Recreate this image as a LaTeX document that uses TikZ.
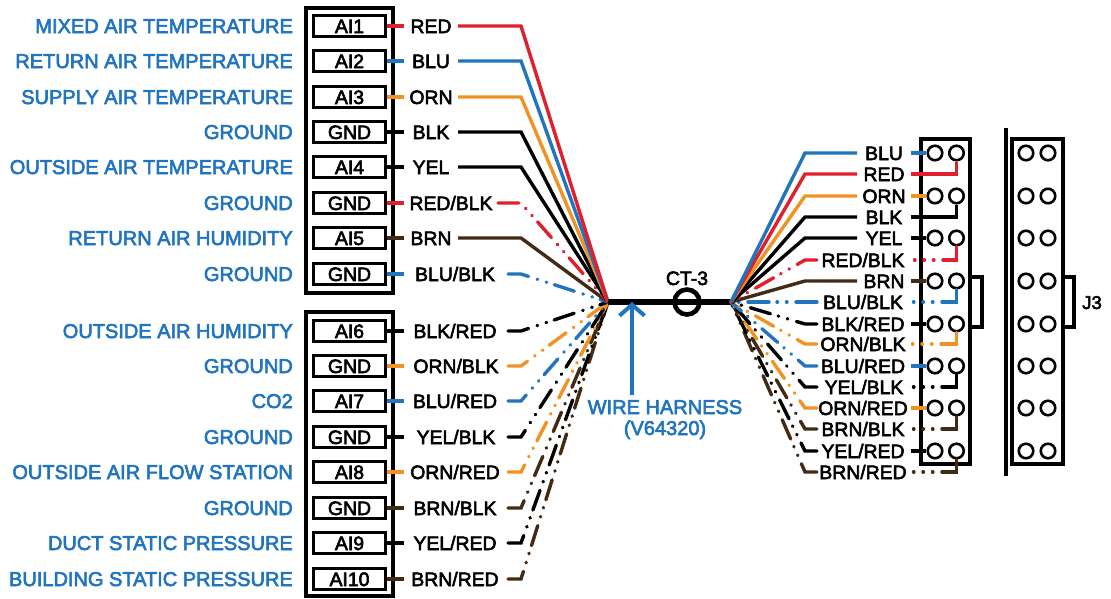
\documentclass[tikz,border=0pt]{standalone}
\usepackage{fontspec}
\setmainfont[FakeBold=3]{Liberation Sans}
\usetikzlibrary{arrows.meta}
\definecolor{wred}{RGB}{224,32,44}
\definecolor{wblu}{RGB}{32,116,192}
\definecolor{worn}{RGB}{240,146,36}
\definecolor{wblk}{RGB}{0,0,0}
\definecolor{wbrn}{RGB}{66,42,20}
\tikzset{
  txt/.style={font=\fontsize{19.4}{20}\selectfont,inner sep=0pt},
  desc/.style={txt,text=wblu,anchor=base east,font=\fontsize{20}{20}\selectfont},
  lab/.style={txt,text=black,anchor=base},
  term/.style={draw=black,line width=3pt,minimum width=72pt,minimum height=21pt,inner sep=0pt,font=\fontsize{19.4}{20}\selectfont,text height=14pt,text depth=0pt},
  housing/.style={draw=black,line width=3.4pt},
  wire/.style={line width=3.4pt},
  solidw/.style={},
  dashw/.style={dash pattern=on 21pt off 9pt on 0.5pt off 9pt on 0.5pt off 8pt,line cap=round},
  dashs/.style={dash pattern=on 27pt off 9pt on 0.5pt off 9pt on 0.5pt off 9pt on 0.5pt off 100pt,line cap=round},
  pin/.style={circle,draw=black,line width=2.6pt,minimum size=14.5pt,inner sep=0pt},
}
% id, y, description, terminal, label, label x, wire start, colour, wire style
\newcommand\leftrow[9]{%
  \node[desc] (D#1) at (293,#2+7) {#3};
  \node[term] (T#1) at (349.5,#2) {#4};
  \node[lab] (L#1) at (#6,#2+7) {#5};
  \coordinate (S#1) at (404,#2);
  \coordinate (W#1) at (#7,#2);
  \coordinate (B#1) at (521,#2);
  \draw[wire,#8] (T#1.east) -- (S#1);
  \draw[wire,#8,#9] (W#1) -- (B#1) -- (hubL);
}
% id, y, label, label x, wire end, colour, wire style
\newcommand\rightlab[7]{%
  \node[lab] (R#1) at (#4,#2+7) {#3};
  \coordinate (E#1) at (#5,#2);
  \coordinate (C#1) at (805,#2);
  \coordinate (Q#1) at (911,#2);
  \draw[wire,#6,#7] (E#1) -- (C#1) -- (hubR);
}
\newcommand\pinrow[2]{%
  \node[pin] (P#1a) at (935,#2) {};
  \node[pin] (P#1b) at (956.5,#2) {};
  \node[pin] (X#1a) at (1026,#2) {};
  \node[pin] (X#1b) at (1048,#2) {};
}
\begin{document}
\begin{tikzpicture}[x=1pt,y=-1pt]
\useasboundingbox (0,0) rectangle (1111,598);
\fill[white] (0,0) rectangle (1111,598);
\coordinate (hubL) at (608,302);
\coordinate (hubR) at (731,302);

% housings
\draw[housing] (306,8) rectangle (393,293);
\draw[housing] (306,312) rectangle (393,596);
\draw[housing] (921,139) rectangle (970,464);
\draw[housing] (1012,139) rectangle (1063,464);
\draw[housing] (970,277) -- (982,277) -- (982,327) -- (970,327);
\draw[housing] (1063,277) -- (1074,277) -- (1074,327) -- (1063,327);
\node[pin,draw=none,minimum size=0pt] (topbar) at (1006,127) {};
\node[pin,draw=none,minimum size=0pt] (botbar) at (1006,477) {};
\draw[line width=3.4pt] (topbar) -- (botbar);
\node[lab,font=\fontsize{18.5}{19}\selectfont] (J3) at (1092,309) {J3};

% left side (drawn bottom up, so that the top wires lie on top at the hub)
\leftrow{16}{579}{BUILDING STATIC PRESSURE}{AI10}{BRN/RED}{455}{508}{wbrn}{dashw}
\leftrow{15}{543}{DUCT STATIC PRESSURE}{AI9}{YEL/RED}{455}{508}{wblk}{dashw}
\leftrow{14}{508}{GROUND}{GND}{BRN/BLK}{455}{508}{wbrn}{dashw}
\leftrow{13}{472}{OUTSIDE AIR FLOW STATION}{AI8}{ORN/RED}{455}{508}{worn}{dashw}
\leftrow{12}{437}{GROUND}{GND}{YEL/BLK}{456}{508}{wblk}{dashw}
\leftrow{11}{401}{CO2}{AI7}{BLU/RED}{455}{508}{wblu}{dashw}
\leftrow{10}{366}{GROUND}{GND}{ORN/BLK}{456}{508}{worn}{dashw}
\leftrow{9}{331}{OUTSIDE AIR HUMIDITY}{AI6}{BLK/RED}{455}{508}{wblk}{dashw}
\leftrow{8}{274}{GROUND}{GND}{BLU/BLK}{455}{508}{wblu}{dashw}
\leftrow{7}{238}{RETURN AIR HUMIDITY}{AI5}{BRN}{431}{458}{wbrn}{solidw}
\leftrow{6}{203}{GROUND}{GND}{RED/BLK}{451}{498}{wred}{dashw}
\leftrow{5}{167}{OUTSIDE AIR TEMPERATURE}{AI4}{YEL}{431}{458}{wblk}{solidw}
\leftrow{4}{132}{GROUND}{GND}{BLK}{431}{458}{wblk}{solidw}
\leftrow{3}{97}{SUPPLY AIR TEMPERATURE}{AI3}{ORN}{431}{458}{worn}{solidw}
\leftrow{2}{61}{RETURN AIR TEMPERATURE}{AI2}{BLU}{431}{458}{wblu}{solidw}
\leftrow{1}{26}{MIXED AIR TEMPERATURE}{AI1}{RED}{431}{458}{wred}{solidw}

% harness
\draw[line width=6pt] (hubL) -- (hubR);
\node[circle,draw=black,line width=4.6pt,minimum size=25pt,inner sep=0pt] (ct) at (687,302) {};
\node[lab] (ctl) at (687,285) {CT-3};
\node[desc,anchor=base] (wh1) at (665,414) {WIRE HARNESS};
\node[desc,anchor=base] (wh2) at (665,435) {(V64320)};
\coordinate (ar1) at (632,395);
\coordinate (ar2) at (632,302);
\draw[wblu,line width=4.4pt,-{Straight Barb[length=11pt,width=25pt,line width=4pt]}] (ar1) -- (ar2);

% right side labels and wires
\rightlab{16}{472}{BRN/RED}{863}{817}{wbrn}{dashw}
\rightlab{15}{451}{YEL/RED}{863}{817}{wblk}{dashw}
\rightlab{14}{429}{BRN/BLK}{863}{817}{wbrn}{dashw}
\rightlab{13}{408}{ORN/RED}{863}{817}{worn}{dashw}
\rightlab{12}{387}{YEL/BLK}{864}{817}{wblk}{dashw}
\rightlab{11}{366}{BLU/RED}{863}{817}{wblu}{dashw}
\rightlab{10}{344}{ORN/BLK}{863}{817}{worn}{dashw}
\rightlab{9}{324}{BLK/RED}{863}{817}{wblk}{dashw}
\rightlab{8}{302}{BLU/BLK}{863}{817}{wblu}{dashw}
\rightlab{7}{281}{BRN}{884}{857}{wbrn}{solidw}
\rightlab{6}{260}{RED/BLK}{863}{817}{wred}{dashw}
\rightlab{5}{238}{YEL}{884}{857}{wblk}{solidw}
\rightlab{4}{217}{BLK}{884}{857}{wblk}{solidw}
\rightlab{3}{196}{ORN}{884}{857}{worn}{solidw}
\rightlab{2}{174}{RED}{884}{857}{wred}{solidw}
\rightlab{1}{153}{BLU}{884}{857}{wblu}{solidw}

% pins
\pinrow{1}{153}
\pinrow{2}{196}
\pinrow{3}{238}
\pinrow{4}{281}
\pinrow{5}{324}
\pinrow{6}{366}
\pinrow{7}{408}
\pinrow{8}{451}

% stubs to the pins
\draw[wire,wblu] (Q1) -- (P1a.west);
\draw[wire,wred] (Q2) -| (P1b.south);
\draw[wire,worn] (Q3) -- (P2a.west);
\draw[wire,wblk] (Q4) -| (P2b.south);
\draw[wire,wblk] (Q5) -- (P3a.west);
\draw[wire,wred,dashs] (P3b.south) |- (Q6);
\draw[wire,wbrn] (Q7) -- (P4a.west);
\draw[wire,wblu,dashs] (P4b.south) |- (Q8);
\draw[wire,wblk] (Q9) -- (P5a.west);
\draw[wire,worn,dashs] (P5b.south) |- (Q10);
\draw[wire,wblu] (Q11) -- (P6a.west);
\draw[wire,wblk,dashs] (P6b.south) |- (Q12);
\draw[wire,worn] (Q13) -- (P7a.west);
\draw[wire,wbrn,dashs] (P7b.south) |- (Q14);
\draw[wire,wblk] (Q15) -- (P8a.west);
\draw[wire,wbrn,dashs] (P8b.south) |- (Q16);
\end{tikzpicture}
\end{document}
